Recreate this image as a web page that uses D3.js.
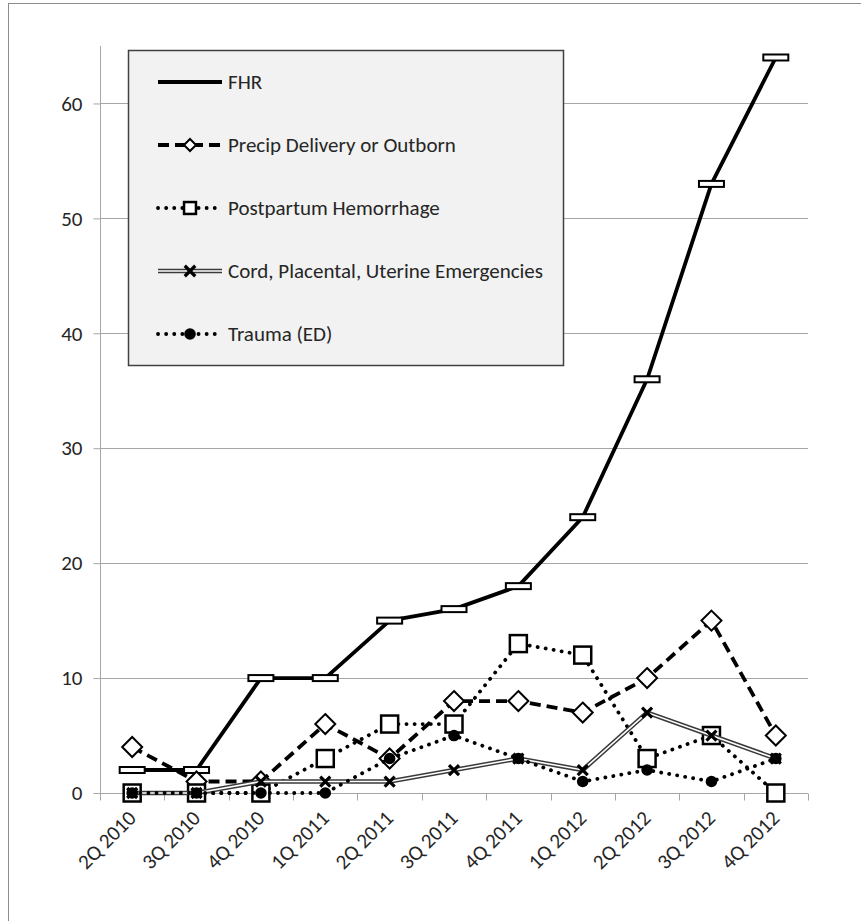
<!DOCTYPE html>
<html>
<head>
<meta charset="utf-8">
<script src="https://cdn.jsdelivr.net/npm/d3@7"></script>
<style>
  html, body { margin: 0; padding: 0; background: #fff; }
  svg { display: block; }
  text { font-family: Carlito, Calibri, Lato, "Open Sans", sans-serif; fill: #262626; }
</style>
</head>
<body>
<svg id="chart" width="861" height="921"></svg>
<script>
// Quarterly counts per category
const categories = ["2Q 2010", "3Q 2010", "4Q 2010", "1Q 2011", "2Q 2011", "3Q 2011",
                    "4Q 2011", "1Q 2012", "2Q 2012", "3Q 2012", "4Q 2012"];
const fhr        = [2, 2, 10, 10, 15, 16, 18, 24, 36, 53, 64];
const precip     = [4, 1, 1, 6, 3, 8, 8, 7, 10, 15, 5];
const postpartum = [0, 0, 0, 3, 6, 6, 13, 12, 3, 5, 0];
const cord       = [0, 0, 1, 1, 1, 2, 3, 2, 7, 5, 3];
const trauma     = [0, 0, 0, 0, 3, 5, 3, 1, 2, 1, 3];
const yTicks     = [0, 10, 20, 30, 40, 50, 60];
const seriesNames = ["FHR", "Precip Delivery or Outborn", "Postpartum Hemorrhage",
                     "Cord, Placental, Uterine Emergencies", "Trauma (ED)"];

const svg = d3.select("#chart");
const plot = { left: 100, right: 808, top: 46, bottom: 793 };
const fontSize = 21;

// outer chart frame
svg.append("rect")
  .attr("x", 8.5).attr("y", 3.5).attr("width", 900).attr("height", 1000)
  .attr("fill", "none").attr("stroke", "#8c8c8c").attr("stroke-width", 1);

const x = d3.scaleBand().domain(categories).range([plot.left, plot.right]).padding(0);
const cx = c => x(c) + x.bandwidth() / 2;
const y = d3.scaleLinear().domain([0, 65]).range([plot.bottom, plot.top]);

// horizontal gridlines
svg.append("g").selectAll("line").data(yTicks.filter(t => t > 0)).join("line")
  .attr("x1", plot.left).attr("x2", plot.right)
  .attr("y1", d => Math.round(y(d)) + 0.5).attr("y2", d => Math.round(y(d)) + 0.5)
  .attr("stroke", "#a6a6a6").attr("stroke-width", 1);

// y axis
const yAxis = svg.append("g")
  .attr("transform", `translate(${plot.left + 0.5},0)`)
  .call(d3.axisLeft(y).tickValues(yTicks).tickSize(7).tickPadding(11).tickFormat(d3.format("d")));
yAxis.select(".domain").attr("stroke", "#a6a6a6").attr("d", `M0,${plot.top}V${plot.bottom}`);
yAxis.selectAll(".tick line").attr("stroke", "#a6a6a6");
yAxis.selectAll(".tick text").attr("font-size", fontSize).attr("fill", "#404040")
  .style("font-family", "Carlito, Calibri, Lato, sans-serif");

// x axis
const xAxis = svg.append("g")
  .attr("transform", `translate(0,${Math.round(plot.bottom) + 0.5})`)
  .call(d3.axisBottom(x).tickSize(0).tickPadding(0));
xAxis.select(".domain").attr("stroke", "#a6a6a6").attr("d", `M${plot.left},0H${plot.right}`);
xAxis.selectAll(".tick text")
  .attr("font-size", fontSize).attr("fill", "#404040")
  .attr("text-anchor", "end")
  .attr("transform", "translate(5,26) rotate(-45)")
  .attr("dy", "0").attr("y", 0).attr("x", 0)
  .style("font-family", "Carlito, Calibri, Lato, sans-serif");
// category boundary ticks
xAxis.append("g").selectAll("line")
  .data(d3.range(categories.length + 1))
  .join("line")
  .attr("x1", i => Math.round(plot.left + i * x.bandwidth()) + 0.5)
  .attr("x2", i => Math.round(plot.left + i * x.bandwidth()) + 0.5)
  .attr("y1", 0).attr("y2", 7)
  .attr("stroke", "#a6a6a6");

// marker drawers
const markers = {
  dash: (g, s) => g.append("rect").attr("x", -12.5 * s).attr("y", -3 * s)
    .attr("width", 25 * s).attr("height", 6 * s)
    .attr("fill", "#fff").attr("stroke", "#000").attr("stroke-width", 2),
  diamond: (g, s) => g.append("path")
    .attr("d", `M0,${-10 * s}L${10 * s},0L0,${10 * s}L${-10 * s},0Z`)
    .attr("fill", "#fff").attr("stroke", "#000").attr("stroke-width", 2),
  square: (g, s) => g.append("rect").attr("x", -8.5 * s).attr("y", -8.5 * s)
    .attr("width", 17 * s).attr("height", 17 * s)
    .attr("fill", "#fff").attr("stroke", "#000").attr("stroke-width", 2.5),
  cross: (g, s) => g.append("path")
    .attr("d", `M${-5 * s},${-5 * s}L${5 * s},${5 * s}M${5 * s},${-5 * s}L${-5 * s},${5 * s}`)
    .attr("fill", "none").attr("stroke", "#000").attr("stroke-width", 3.2),
  circle: (g, s) => g.append("circle").attr("r", 5.8 * s).attr("fill", "#000")
};

const series = [
  { name: seriesNames[0], values: fhr,        line: "solid",  marker: "dash",    legendScale: 0 },
  { name: seriesNames[1], values: precip,     line: "dashed", marker: "diamond", legendScale: 0.6 },
  { name: seriesNames[2], values: postpartum, line: "dotted", marker: "square",  legendScale: 0.7 },
  { name: seriesNames[3], values: cord,       line: "double", marker: "cross",   legendScale: 1.05 },
  { name: seriesNames[4], values: trauma,     line: "dotted", marker: "circle",  legendScale: 1.0 }
];

function strokeLine(g, d, style) {
  if (style === "double") {
    g.append("path").attr("d", d).attr("fill", "none")
      .attr("stroke", "#3a3a3a").attr("stroke-width", 4.6);
    g.append("path").attr("d", d).attr("fill", "none")
      .attr("stroke", "#fff").attr("stroke-width", 1.6);
    return;
  }
  const p = g.append("path").attr("d", d).attr("fill", "none")
    .attr("stroke", "#000").attr("stroke-width", 3.8).attr("stroke-linejoin", "round");
  if (style === "dashed") p.attr("stroke-dasharray", "11 6");
  if (style === "dotted") p.attr("stroke-dasharray", "0.1 8").attr("stroke-linecap", "round");
}

const line = d3.line().x((d, i) => cx(categories[i])).y(d => y(d));

series.forEach(s => {
  const g = svg.append("g");
  strokeLine(g, line(s.values), s.line);
  s.values.forEach((v, i) => {
    const m = g.append("g").attr("transform", `translate(${cx(categories[i])},${y(v)})`);
    markers[s.marker](m, 1);
  });
});

// legend
const legend = svg.append("g");
legend.append("rect")
  .attr("x", 128.5).attr("y", 50.5).attr("width", 435).attr("height", 315)
  .attr("fill", "#f2f2f2").attr("stroke", "#404040").attr("stroke-width", 1.5);
series.forEach((s, i) => {
  const ly = 82 + i * 63;
  const g = legend.append("g");
  strokeLine(g, `M158,${ly}H222`, s.line);
  if (s.legendScale > 0) {
    const m = g.append("g").attr("transform", `translate(190,${ly})`);
    markers[s.marker](m, s.legendScale);
  }
  g.append("text").attr("x", 228).attr("y", ly).attr("dy", "0.35em")
    .attr("font-size", fontSize).attr("fill", "#262626").text(s.name);
});
</script>
</body>
</html>
